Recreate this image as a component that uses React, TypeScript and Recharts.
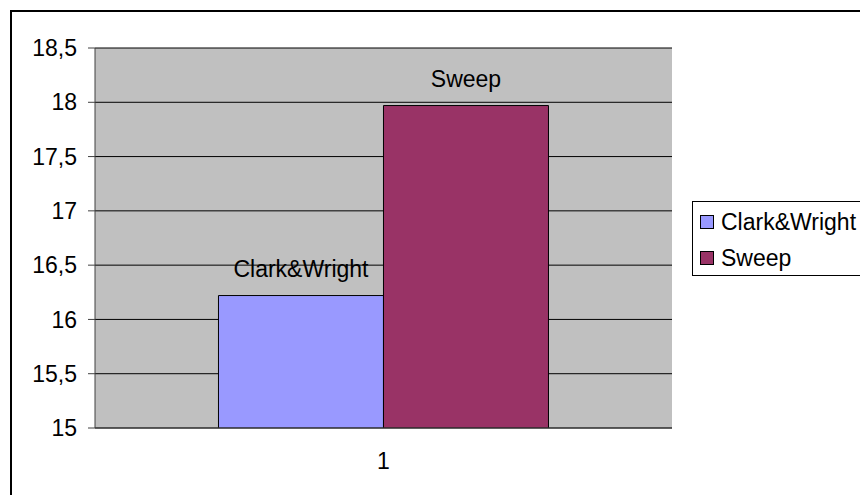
import React from "react";
import {
  BarChart,
  Bar,
  XAxis,
  YAxis,
  CartesianGrid,
  Legend,
  LabelList,
} from "recharts";

const categories = ["1"];
const clarkWright = [16.22];
const sweep = [17.97];
const seriesNames = ["Clark&Wright", "Sweep"];
const yTicks = [15, 15.5, 16, 16.5, 17, 17.5, 18, 18.5];

const data = categories.map((cat, i) => ({
  cat,
  cw: clarkWright[i],
  sw: sweep[i],
}));

const FONT = "'Liberation Sans', Arial, sans-serif";
const FS = 23;

// eslint-disable-next-line @typescript-eslint/no-explicit-any
const LegendBox = ({ payload }: any) => (
  <div
    style={{
      border: "1px solid #000",
      background: "#fff",
      width: 180,
      height: 75,
      boxSizing: "border-box",
      paddingLeft: 7,
      paddingTop: 4,
      fontFamily: FONT,
      fontSize: FS,
      color: "#000",
    }}
  >
    {/* eslint-disable-next-line @typescript-eslint/no-explicit-any */}
    {(payload || []).map((entry: any, i: number) => (
      <div
        key={i}
        style={{ display: "flex", alignItems: "center", height: 32, marginBottom: 4 }}
      >
        <span
          style={{
            display: "inline-block",
            width: 12,
            height: 12,
            border: "1px solid #000",
            background: entry.color,
            marginRight: 7,
          }}
        />
        <span>{entry.value}</span>
      </div>
    ))}
  </div>
);

export default function App() {
  return (
    <div
      style={{
        position: "absolute",
        left: 0,
        top: 0,
        width: 860,
        height: 495,
        overflow: "hidden",
        background: "#fff",
      }}
    >
      <div
        style={{
          position: "absolute",
          left: 10,
          top: 10,
          width: 880,
          height: 520,
          border: "2px solid #000",
        }}
      />
      <div style={{ position: "absolute", left: 0, top: 0 }}>
        <BarChart
          width={860}
          height={495}
          data={data}
          margin={{ top: 48, right: 188, bottom: 0, left: 35 }}
          barCategoryGap="21.4%"
          barGap={0}
          style={{ fontFamily: FONT }}
        >
          <CartesianGrid
            vertical={false}
            fill="#C0C0C0"
            stroke="#000"
            strokeOpacity={1}
          />
          <XAxis
            dataKey="cat"
            tickLine={false}
            axisLine={{ stroke: "#404040", strokeWidth: 1 }}
            tick={{ fontSize: FS, fill: "#000" }}
            tickMargin={19}
            height={67}
          />
          <XAxis
            xAxisId="top"
            dataKey="cat"
            orientation="top"
            tick={false}
            tickLine={false}
            axisLine={{ stroke: "#A0A0A0" }}
            height={0}
          />
          <YAxis
            domain={[15, 18.5]}
            ticks={yTicks}
            interval={0}
            allowDataOverflow
            tickFormatter={(v) => String(v).replace(".", ",")}
            tick={{ fontSize: FS, fill: "#000" }}
            tickSize={7}
            tickMargin={11}
            tickLine={{ stroke: "#404040" }}
            axisLine={{ stroke: "#404040" }}
            width={60}
          />
          <YAxis
            yAxisId="right"
            orientation="right"
            domain={[15, 18.5]}
            tick={false}
            tickLine={false}
            axisLine={{ stroke: "#808080" }}
            width={0}
          />
          <Legend
            layout="vertical"
            align="center"
            verticalAlign="middle"
            content={<LegendBox />}
            wrapperStyle={{ position: "absolute", left: 692, top: 201, width: 180 }}
          />
          <Bar
            dataKey="cw"
            name={seriesNames[0]}
            fill="#9999FF"
            stroke="#000"
            strokeWidth={1}
            isAnimationActive={false}
          >
            <LabelList
              position="top"
              offset={19}
              formatter={() => seriesNames[0]}
              style={{ fontSize: FS, fill: "#000", fontFamily: FONT }}
            />
          </Bar>
          <Bar
            dataKey="sw"
            name={seriesNames[1]}
            fill="#993366"
            stroke="#000"
            strokeWidth={1}
            isAnimationActive={false}
          >
            <LabelList
              position="top"
              offset={19}
              formatter={() => seriesNames[1]}
              style={{ fontSize: FS, fill: "#000", fontFamily: FONT }}
            />
          </Bar>
        </BarChart>
      </div>
    </div>
  );
}
